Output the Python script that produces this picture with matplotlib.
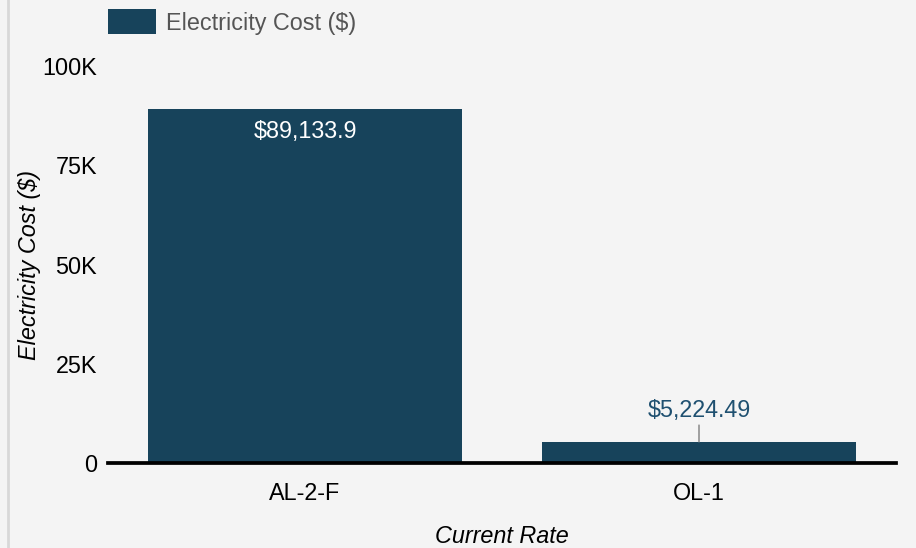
import matplotlib
matplotlib.use("Agg")
import matplotlib.pyplot as plt
from matplotlib.ticker import FuncFormatter
from matplotlib.lines import Line2D

categories = ["AL-2-F", "OL-1"]
costs = [89133.9, 5224.49]
cost_labels = ["$89,133.9", "$5,224.49"]
yticks = [0, 25000, 50000, 75000, 100000]
series_name = "Electricity Cost ($)"

BG = "#f4f4f4"
BAR = "#17435b"
FS = 16.8

plt.rcParams["font.family"] = ["Liberation Sans", "DejaVu Sans"]

W, H = 916, 548
fig = plt.figure(figsize=(W / 100, H / 100), dpi=100, facecolor=BG)
ax = fig.add_axes([108 / W, 1 - 463 / H, (896 - 108) / W, (463 - 66) / H], facecolor=BG)

x = list(range(len(categories)))
bars = ax.bar(x, costs, width=0.797, color=BAR, label=series_name, zorder=2)
ax.set_xlim(-0.5, len(categories) - 0.5)
ax.set_ylim(0, 100000)
ax.set_yticks(yticks)
ax.yaxis.set_major_formatter(FuncFormatter(lambda v, p: "0" if v == 0 else f"{int(v/1000)}K"))
ax.set_xticks(x)
ax.set_xticklabels(categories)
ax.tick_params(axis="y", length=0, pad=8, labelsize=FS, colors="black")
ax.tick_params(axis="x", length=0, pad=14, labelsize=FS, colors="black")
for s in ["top", "right", "left"]:
    ax.spines[s].set_visible(False)
ax.spines["bottom"].set_linewidth(2.7)
ax.spines["bottom"].set_color("black")
ax.spines["bottom"].set_zorder(3)

ax.set_xlabel("Current Rate", fontsize=FS, style="italic", labelpad=14)
ax.set_ylabel("Electricity Cost ($)", fontsize=FS, style="italic", labelpad=1)

# Value labels
for xi, v, lab in zip(x, costs, cost_labels):
    if v > 20000:
        ax.annotate(lab, xy=(xi, v), xytext=(0, -16), textcoords="offset points",
                    ha="center", va="center", color="white", fontsize=FS)
    else:
        ax.annotate(lab, xy=(xi, v), xytext=(0, 23), textcoords="offset points",
                    ha="center", va="center", color="#1f5070", fontsize=FS,
                    arrowprops=dict(arrowstyle="-", color="#999999", lw=1.3,
                                    shrinkA=0.5, shrinkB=0.5))

leg = fig.legend(handles=[bars], labels=[series_name], loc="upper left",
                 bbox_to_anchor=(108 / W, 1 - 9 / H), frameon=False, fontsize=FS,
                 borderpad=0, borderaxespad=0, handlelength=2.05, handleheight=1.3,
                 handletextpad=0.45)
for t in leg.get_texts():
    t.set_color("#555555")

# left border line
fig.add_artist(Line2D([7.5 / W, 7.5 / W], [0, 1], transform=fig.transFigure,
                      color="#d8d8d8", lw=2))

fig.savefig("out.png", dpi=100, facecolor=BG)
